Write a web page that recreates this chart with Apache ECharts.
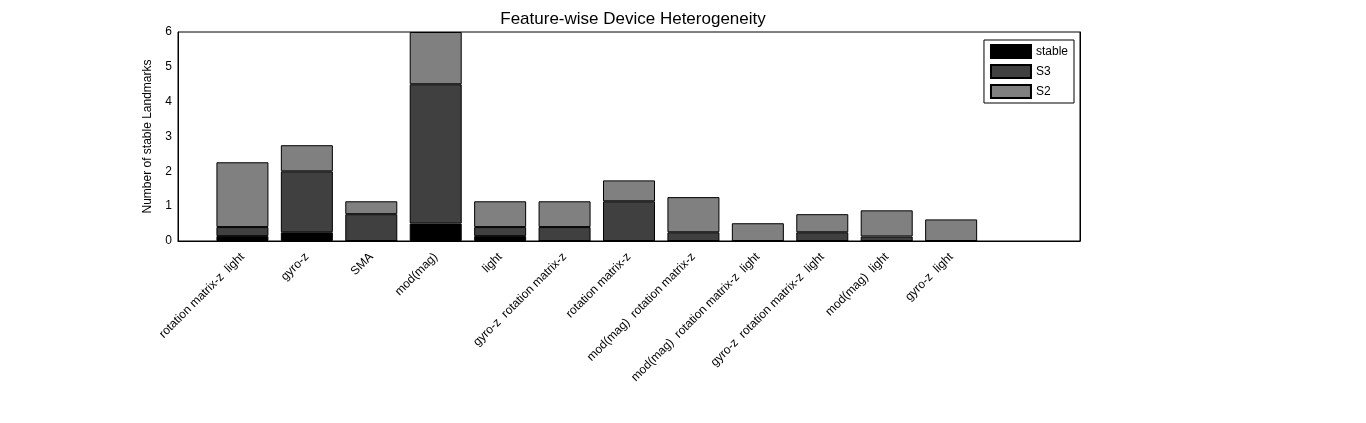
<!DOCTYPE html>
<html><head><meta charset="utf-8">
<script src="https://cdn.jsdelivr.net/npm/echarts@6/dist/echarts.min.js"></script>
<style>html,body{margin:0;background:#fff}#chart{width:1366px;height:423px}</style>
</head><body><div id="chart"></div>
<script>
const features = ['rotation matrix-z  light', 'gyro-z', 'SMA', 'mod(mag)', 'light',
    'gyro-z  rotation matrix-z', 'rotation matrix-z', 'mod(mag)  rotation matrix-z',
    'mod(mag)  rotation matrix-z  light', 'gyro-z  rotation matrix-z  light',
    'mod(mag)  light', 'gyro-z  light'];
const stable = [0.14, 0.25, 0, 0.5, 0.14, 0, 0, 0, 0, 0, 0, 0];
const s3 = [0.26, 1.75, 0.77, 4.0, 0.26, 0.4, 1.14, 0.25, 0, 0.25, 0.13, 0];
const s2 = [1.86, 0.75, 0.37, 1.5, 0.74, 0.74, 0.6, 1.01, 0.51, 0.52, 0.75, 0.62];

// slots 0..14 like the original x range, bars at 1..12
const slots = [''].concat(features, ['', '']);

const font = 'Liberation Sans';
const chart = echarts.init(document.getElementById('chart'));

function mk(name, vals, color) {
    return {
        name: name, type: 'bar', stack: 'all', barWidth: 52,
        data: [null].concat(vals, [null, null]),
        itemStyle: { color: color, borderColor: '#000', borderWidth: 1 },
        animation: false
    };
}

chart.setOption({
    textStyle: { fontFamily: font },
    title: {
        text: 'Feature-wise Device Heterogeneity', left: 628, top: 6, textAlign: 'center',
        textStyle: { fontFamily: font, fontSize: 17, fontWeight: 'normal', color: '#000' }
    },
    grid: { left: 178, right: 286, top: 32, bottom: 182, show: true, borderColor: '#000', borderWidth: 1 },
    legend: {
        right: 292, top: 40, orient: 'vertical', icon: 'rect', itemWidth: 40, itemHeight: 13, itemGap: 5,
        backgroundColor: '#fff', borderColor: '#000', borderWidth: 1, padding: [4, 6, 4, 6],
        textStyle: { fontFamily: font, fontSize: 12, color: '#000' },
        data: ['stable', 'S3', 'S2']
    },
    xAxis: {
        type: 'category', data: slots, boundaryGap: false,
        splitLine: { show: false },
        axisLine: { lineStyle: { color: '#000' } },
        axisTick: { show: false },
        axisLabel: { rotate: 45, color: '#000', fontSize: 12, margin: 14, interval: 0 }
    },
    yAxis: [{
        type: 'value', min: 0, max: 6, interval: 1,
        name: 'Number of stable Landmarks', nameLocation: 'middle', nameGap: 24,
        nameTextStyle: { color: '#000', fontSize: 12 },
        splitLine: { show: false },
        axisLine: { show: true, lineStyle: { color: '#000' } },
        axisTick: { inside: true, length: 6, lineStyle: { color: '#000' } },
        axisLabel: { color: '#000', fontSize: 12, margin: 6 }
    }, {
        type: 'value', min: 0, max: 6, interval: 1, position: 'right',
        splitLine: { show: false },
        axisLine: { show: true, lineStyle: { color: '#000' } },
        axisTick: { inside: true, length: 6, lineStyle: { color: '#000' } },
        axisLabel: { show: false }
    }],
    series: [mk('stable', stable, '#000000'), mk('S3', s3, '#404040'), mk('S2', s2, '#808080')]
});
</script></body></html>
